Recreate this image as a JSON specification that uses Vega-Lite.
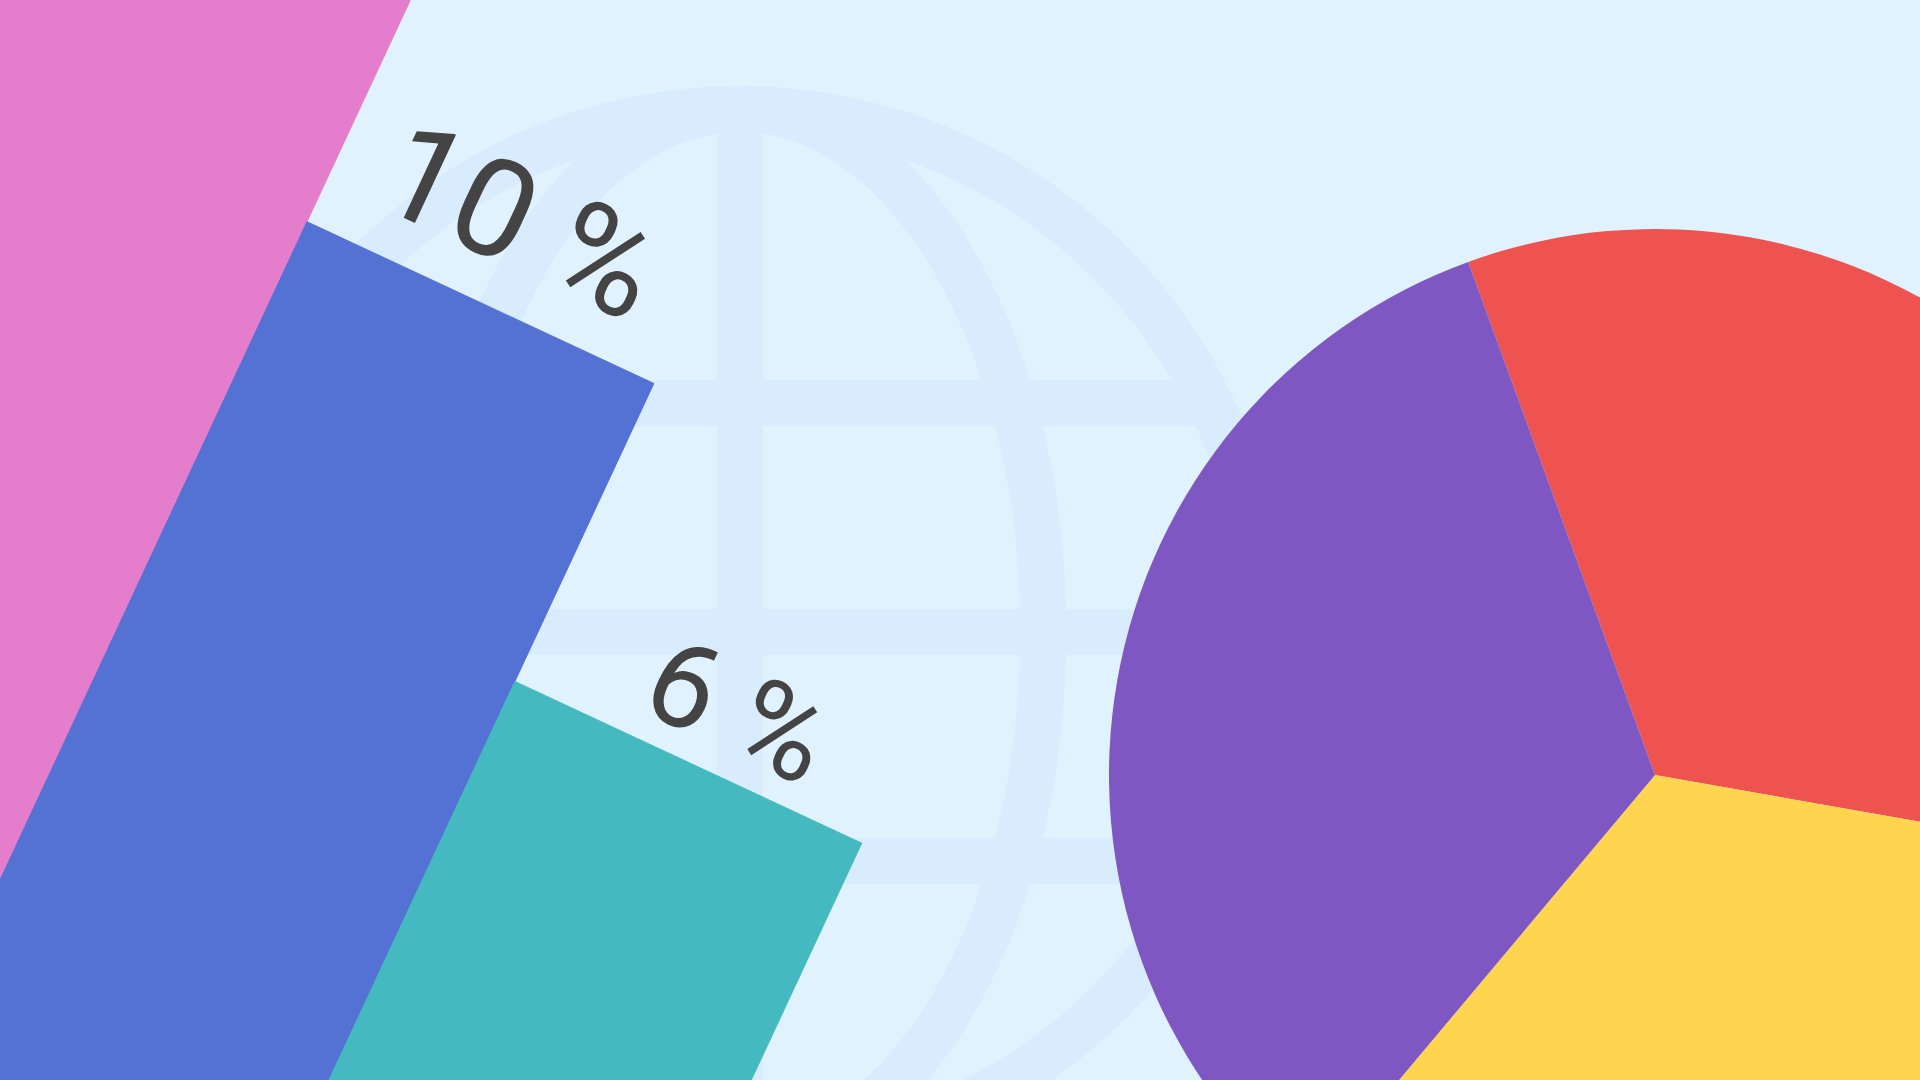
{
  "$schema": "https://vega.github.io/schema/vega-lite/v6.json",
  "width": 1920,
  "height": 1080,
  "padding": 0,
  "autosize": {"type": "none"},
  "background": "#E0F2FE",
  "view": {"stroke": null, "fill": null},
  "datasets": {
    "bars": [
      {"bar": "A", "value": 14},
      {"bar": "B", "value": 10},
      {"bar": "C", "value": 6}
    ],
    "slices": [
      {"slice": "A", "share": 33.3},
      {"slice": "B", "share": 33.3},
      {"slice": "C", "share": 33.3}
    ]
  },
  "layer": [
    {
      "data": {"values": [{"icon": "globe"}]},
      "mark": {
        "type": "point",
        "shape": "M -1 0 A 1 1 0 1 0 1 0 A 1 1 0 1 0 -1 0 M 0 -1 L 0 1 M -0.899 -0.438 L 0.899 -0.438 M -1 0 L 1 0 M -0.899 0.438 L 0.899 0.438 M 0 -1 A 0.58 1 0 1 0 0 1 A 0.58 1 0 1 0 0 -1",
        "size": 1094116,
        "filled": false,
        "stroke": "#D9ECFD",
        "strokeWidth": 46,
        "opacity": 1
      },
      "encoding": {
        "x": {"datum": 740, "type": "quantitative", "scale": {"domain": [0, 1920], "nice": false, "zero": false}, "axis": null},
        "y": {"datum": 632, "type": "quantitative", "scale": {"domain": [0, 1080], "reverse": true, "nice": false, "zero": false}, "axis": null}
      }
    },
    {
      "data": {"name": "bars"},
      "transform": [
        {"window": [{"op": "row_number", "as": "i"}]},
        {"calculate": "[0, 1, 2, 3]", "as": "corner"},
        {"flatten": ["corner"]},
        {"calculate": "(datum.i - 2 + (datum.corner >= 2 ? 1 : 0)) * 382.7", "as": "u"},
        {"calculate": "(datum.corner == 1 || datum.corner == 2 ? datum.value : -8) * 82.2", "as": "v"},
        {"calculate": "-40.4 + datum.u * cos(PI / 7.2) + datum.v * sin(PI / 7.2)", "as": "px"},
        {"calculate": "966.7 + datum.u * sin(PI / 7.2) - datum.v * cos(PI / 7.2)", "as": "py"}
      ],
      "mark": {"type": "line", "strokeWidth": 1, "clip": true},
      "encoding": {
        "x": {"field": "px", "type": "quantitative", "axis": null},
        "y": {"field": "py", "type": "quantitative", "axis": null},
        "order": {"field": "corner", "type": "quantitative"},
        "fill": {"field": "bar", "type": "nominal", "scale": {"domain": ["A", "B", "C"], "range": ["#E37DCC", "#5471D4", "#44B9C0"]}, "legend": null},
        "stroke": {"field": "bar", "type": "nominal", "scale": {"domain": ["A", "B", "C"], "range": ["#E37DCC", "#5471D4", "#44B9C0"]}, "legend": null}
      }
    },
    {
      "data": {"name": "bars"},
      "transform": [
        {"window": [{"op": "row_number", "as": "i"}]},
        {"calculate": "(datum.i - 1.5) * 382.7 * 1.056 - 9", "as": "u"},
        {"calculate": "datum.value * 82.2 * 1.054", "as": "v"},
        {"calculate": "-40.4 + datum.u * cos(PI / 7.2) + datum.v * sin(PI / 7.2)", "as": "px"},
        {"calculate": "966.7 + datum.u * sin(PI / 7.2) - datum.v * cos(PI / 7.2)", "as": "py"},
        {"calculate": "datum.value + ' %'", "as": "lbl"},
        {"filter": "datum.py > 0"}
      ],
      "mark": {
        "type": "text",
        "angle": 25,
        "align": "center",
        "baseline": "alphabetic",
        "font": "Roboto",
        "fill": "#444444",
        "clip": true
      },
      "encoding": {
        "x": {"field": "px", "type": "quantitative", "axis": null},
        "y": {"field": "py", "type": "quantitative", "axis": null},
        "text": {"field": "lbl", "type": "nominal"},
        "size": {"field": "value", "type": "quantitative", "scale": {"domain": [6, 10], "range": [120, 136], "zero": false}, "legend": null}
      }
    },
    {
      "data": {"name": "slices"},
      "transform": [{"window": [{"op": "row_number", "as": "n"}]}],
      "mark": {"type": "arc", "radius": 546},
      "encoding": {
        "x": {"datum": 1655, "type": "quantitative"},
        "y": {"datum": 775, "type": "quantitative"},
        "theta": {"field": "share", "type": "quantitative", "stack": true, "scale": {"range": [-0.349066, 5.934119]}},
        "order": {"field": "n", "type": "quantitative"},
        "color": {"field": "slice", "type": "nominal", "scale": {"domain": ["A", "B", "C"], "range": ["#EF5350", "#FFD54F", "#7E57C2"]}, "legend": null}
      }
    }
  ]
}
